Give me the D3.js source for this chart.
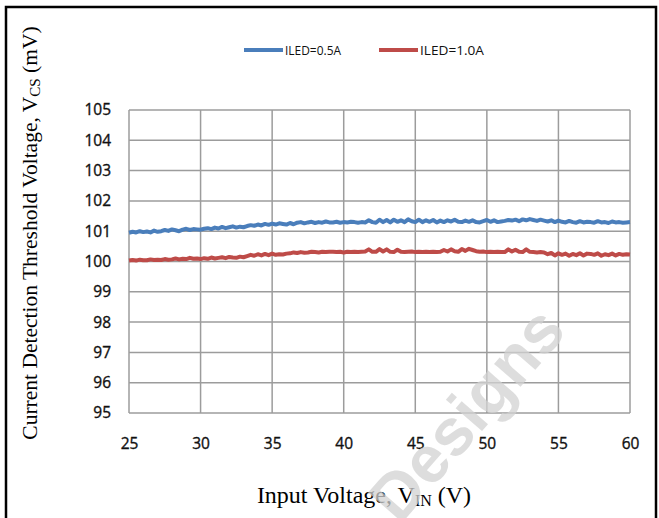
<!DOCTYPE html>
<html><head><meta charset="utf-8">
<script src="https://cdn.jsdelivr.net/npm/d3@7"></script>
<style>body{margin:0;background:#fff}svg{display:block}</style>
</head><body>
<svg id="c" width="659" height="518"></svg>
<script>
const xStart = 25, xStep = 0.25;
const xTicks = [25,30,35,40,45,50,55,60];
const yTicks = [95,96,97,98,99,100,101,102,103,104,105];
const seriesNames = ["ILED=0.5A","ILED=1.0A"];
const iled05 = [
100.95,100.98,100.96,101.00,100.97,100.99,100.96,101.02,100.98,
101.00,101.04,101.01,101.06,101.03,101.00,101.05,101.08,101.04,101.07,101.06,101.05,
101.08,101.10,101.07,101.12,101.09,101.14,101.10,101.13,101.16,101.12,101.15,101.13,
101.17,101.20,101.18,101.22,101.19,101.24,101.21,101.25,101.22,101.26,101.24,101.22,
101.27,101.23,101.28,101.30,101.26,101.29,101.31,101.27,101.30,101.28,101.32,101.29,
101.29,101.31,101.28,101.30,101.29,101.31,101.30,101.28,101.30,101.29,101.36,101.30,
101.28,101.38,101.30,101.37,101.29,101.38,101.31,101.36,101.30,101.39,101.33,101.30,
101.38,101.30,101.36,101.31,101.37,101.29,101.35,101.30,101.36,101.32,101.38,101.31,
101.30,101.35,101.31,101.36,101.30,101.29,101.33,101.37,101.31,101.36,101.30,101.32,
101.34,101.37,101.35,101.38,101.33,101.39,101.36,101.40,101.37,101.34,101.38,101.35,
101.32,101.36,101.30,101.35,101.31,101.29,101.34,101.30,101.28,101.33,101.29,101.31,
101.30,101.28,101.33,101.29,101.30,101.27,101.32,101.29,101.30,101.28,101.29,101.30];
const iled10 = [
100.03,100.05,100.03,100.06,100.04,100.04,100.07,100.05,100.06,
100.05,100.08,100.06,100.07,100.10,100.07,100.09,100.08,100.12,100.09,100.10,100.08,
100.11,100.09,100.13,100.10,100.12,100.14,100.11,100.15,100.13,100.12,100.16,100.14,
100.18,100.22,100.19,100.24,100.20,100.25,100.21,100.26,100.22,100.24,100.23,100.26,
100.27,100.30,100.28,100.31,100.29,100.30,100.32,100.31,100.30,100.32,100.31,100.32,
100.32,100.31,100.32,100.30,100.32,100.31,100.32,100.31,100.32,100.33,100.40,100.32,
100.32,100.41,100.33,100.40,100.32,100.31,100.39,100.32,100.31,100.32,100.33,100.31,
100.32,100.31,100.32,100.31,100.32,100.31,100.32,100.38,100.33,100.40,100.34,100.32,
100.41,100.35,100.42,100.38,100.34,100.32,100.33,100.31,100.32,100.31,100.32,100.31,
100.31,100.40,100.33,100.39,100.32,100.31,100.40,100.32,100.31,100.30,100.31,100.30,
100.24,100.28,100.20,100.27,100.22,100.26,100.19,100.25,100.21,100.27,100.20,100.26,
100.25,100.22,100.27,100.19,100.24,100.21,100.26,100.20,100.25,100.22,100.24,100.23];
const colors = ["#4a7ebb","#be4b48"];

const svg = d3.select("#c");
const x = d3.scaleLinear().domain([25,60]).range([129,630]);
const y = d3.scaleLinear().domain([95,105]).range([413,110]);

// outer frame
svg.append("rect").attr("x",6).attr("y",7).attr("width",650).attr("height",530)
  .attr("fill","none").attr("stroke","#000").attr("stroke-width",2.5);

// grid
const g = svg.append("g");
g.selectAll(".hg").data(yTicks).join("line")
  .attr("x1",x(25)).attr("x2",x(60)).attr("y1",d=>y(d)).attr("y2",d=>y(d))
  .attr("stroke","#9c9c9c").attr("stroke-width",1.5);
g.selectAll(".vg").data(xTicks).join("line")
  .attr("y1",y(95)).attr("y2",y(105)).attr("x1",d=>x(d)).attr("x2",d=>x(d))
  .attr("stroke","#9c9c9c").attr("stroke-width",1.5);

// axes labels via d3 axes
const xa = svg.append("g").attr("transform",`translate(0,${y(95)})`)
  .call(d3.axisBottom(x).tickValues(xTicks).tickSize(0).tickPadding(25));
const ya = svg.append("g").attr("transform",`translate(${x(25)},0)`)
  .call(d3.axisLeft(y).tickValues(yTicks).tickSize(0).tickPadding(18));
[xa,ya].forEach(a=>{a.select(".domain").remove();
  a.selectAll("text").attr("font-family","'Open Sans'").attr("font-size","15.5px")
   .attr("fill","#111").attr("stroke","#111").attr("stroke-width",0.35);});

// lines
const line = d3.line().x((d,i)=>x(xStart+i*xStep)).y(d=>y(d));
[iled05,iled10].forEach((s,k)=>{
  svg.append("path").datum(s).attr("d",line).attr("fill","none")
    .attr("stroke",colors[k]).attr("stroke-width",4).attr("stroke-linejoin","round");
});

// legend
const leg = [{x0:244,x1:283,tx:285},{x0:379,x1:418,tx:420}];
leg.forEach((l,k)=>{
  svg.append("line").attr("x1",l.x0).attr("x2",l.x1).attr("y1",50).attr("y2",50)
    .attr("stroke",colors[k]).attr("stroke-width",4);
  svg.append("text").attr("x",l.tx).attr("y",50).attr("dy","0.36em")
    .attr("font-family","'Open Sans'").attr("font-size","13px").attr("textLength",l.tx===285?56:64)
    .attr("lengthAdjust","spacingAndGlyphs").attr("fill","#111").text(seriesNames[k]);
});

// axis titles
const xt = svg.append("text").attr("x",364).attr("y",503).attr("text-anchor","middle")
  .attr("font-family","'Liberation Serif'").attr("font-size","24px");
xt.append("tspan").text("Input Voltage, V");
xt.append("tspan").attr("font-size","16px").attr("dy","3").text("IN");
xt.append("tspan").attr("dy","-3").text(" (V)");

const yt = svg.append("text").attr("transform","translate(37,233) rotate(-90)")
  .attr("text-anchor","middle").attr("font-family","'Liberation Serif'").attr("font-size","21.5px");
yt.append("tspan").text("Current Detection Threshold Voltage, V");
yt.append("tspan").attr("font-size","15px").attr("dy","3").text("CS");
yt.append("tspan").attr("dy","-3").text(" (mV)");

// watermark
svg.append("text").attr("transform","translate(568,332) rotate(-49)")
  .attr("text-anchor","end").attr("font-family","'Liberation Sans'").attr("font-weight","bold")
  .attr("font-size","66px").attr("fill","#d2d2d2").attr("fill-opacity",0.75).text("Designs");
</script>
</body></html>
